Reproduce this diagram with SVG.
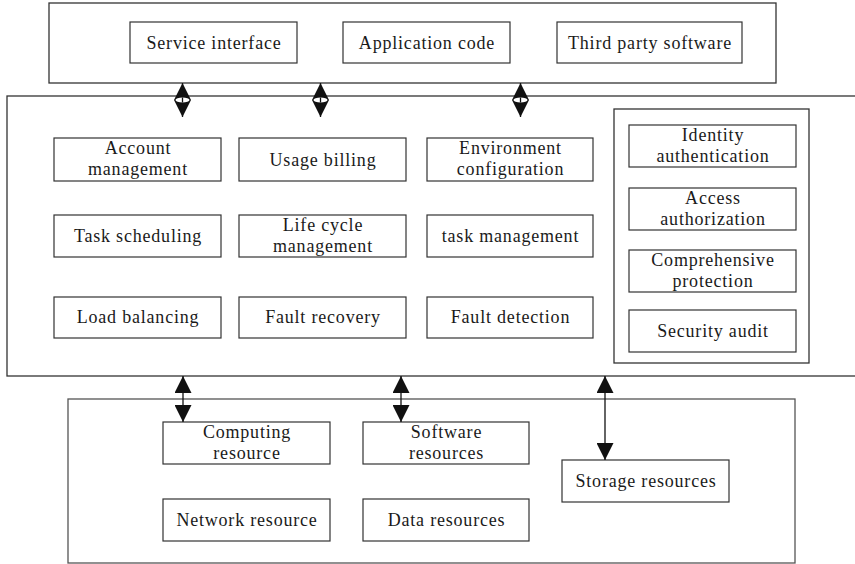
<svg xmlns="http://www.w3.org/2000/svg" width="855" height="564" viewBox="0 0 855 564">
<defs>
<style>
.frame{fill:#fff;stroke:#333;stroke-width:1.3}
.box{fill:#fff;stroke:#333;stroke-width:1.2}
.t{font-family:"Liberation Serif","Times New Roman",serif;font-size:18px;letter-spacing:0.8px;fill:#1a1a1a;text-anchor:middle}
.conn{stroke:#111;stroke-width:1.3;fill:none}
</style>
<marker id="ah" viewBox="0 0 17 17" refX="17" refY="8.5" markerWidth="17" markerHeight="17" markerUnits="userSpaceOnUse" orient="auto-start-reverse">
<path d="M0,0 L17,8.5 L0,17 Z" fill="#111"/>
</marker>
</defs>
<rect width="855" height="564" fill="#fff"/>

<g id="top-layer">
<rect class="frame" x="49" y="3" width="727" height="80"/>
<g id="service-interface"><rect class="box" x="130" y="22" width="167" height="41"/><text class="t" x="214" y="49">Service interface</text></g>
<g id="application-code"><rect class="box" x="343" y="22" width="167" height="41"/><text class="t" x="427" y="49">Application code</text></g>
<g id="third-party-software"><rect class="box" x="557" y="22" width="185" height="41"/><text class="t" x="650" y="49">Third party software</text></g>
</g>

<g id="middle-layer">
<rect class="frame" x="7" y="96" width="860" height="280"/>
<g id="account-management"><rect class="box" x="54" y="138" width="167" height="43"/><text class="t" x="138" y="154">Account</text><text class="t" x="138" y="175">management</text></g>
<g id="usage-billing"><rect class="box" x="239" y="138" width="167" height="43"/><text class="t" x="323" y="166">Usage billing</text></g>
<g id="environment-configuration"><rect class="box" x="427" y="138" width="166" height="43"/><text class="t" x="510.5" y="154">Environment</text><text class="t" x="510.5" y="175">configuration</text></g>
<g id="task-scheduling"><rect class="box" x="54" y="215" width="167" height="42"/><text class="t" x="138" y="242">Task scheduling</text></g>
<g id="life-cycle-management"><rect class="box" x="239" y="215" width="167" height="42"/><text class="t" x="323" y="231">Life cycle</text><text class="t" x="323" y="252">management</text></g>
<g id="task-management"><rect class="box" x="427" y="215" width="166" height="42"/><text class="t" x="510.5" y="242">task management</text></g>
<g id="load-balancing"><rect class="box" x="54" y="297" width="167" height="41"/><text class="t" x="138" y="323">Load balancing</text></g>
<g id="fault-recovery"><rect class="box" x="239" y="297" width="167" height="41"/><text class="t" x="323" y="323">Fault recovery</text></g>
<g id="fault-detection"><rect class="box" x="427" y="297" width="166" height="41"/><text class="t" x="510.5" y="323">Fault detection</text></g>
<g id="security-panel">
<rect class="frame" x="614" y="109" width="195" height="254"/>
<g id="identity-authentication"><rect class="box" x="629" y="125" width="167" height="42"/><text class="t" x="713" y="141">Identity</text><text class="t" x="713" y="162">authentication</text></g>
<g id="access-authorization"><rect class="box" x="629" y="188" width="167" height="42"/><text class="t" x="713" y="204">Access</text><text class="t" x="713" y="225">authorization</text></g>
<g id="comprehensive-protection"><rect class="box" x="629" y="250" width="167" height="42"/><text class="t" x="713" y="266">Comprehensive</text><text class="t" x="713" y="287">protection</text></g>
<g id="security-audit"><rect class="box" x="629" y="310" width="167" height="42"/><text class="t" x="713" y="337">Security audit</text></g>
</g>
</g>

<g id="bottom-layer">
<rect class="frame" x="68" y="399" width="727" height="164" style="stroke:#555"/>
<g id="computing-resource"><rect class="box" x="163" y="422" width="167" height="42"/><text class="t" x="247" y="438">Computing</text><text class="t" x="247" y="459">resource</text></g>
<g id="software-resources"><rect class="box" x="363" y="422" width="166" height="42"/><text class="t" x="446.5" y="438">Software</text><text class="t" x="446.5" y="459">resources</text></g>
<g id="network-resource"><rect class="box" x="163" y="499" width="167" height="42"/><text class="t" x="247" y="526">Network resource</text></g>
<g id="data-resources"><rect class="box" x="363" y="499" width="166" height="42"/><text class="t" x="446.5" y="526">Data resources</text></g>
<g id="storage-resources"><rect class="box" x="562" y="460" width="167" height="42"/><text class="t" x="646" y="487">Storage resources</text></g>
</g>

<g id="connectors">
<line class="conn" x1="182.5" y1="83" x2="182.5" y2="117" marker-start="url(#ah)" marker-end="url(#ah)"/>
<line class="conn" x1="320.5" y1="83" x2="320.5" y2="117" marker-start="url(#ah)" marker-end="url(#ah)"/>
<line class="conn" x1="520.5" y1="83" x2="520.5" y2="117" marker-start="url(#ah)" marker-end="url(#ah)"/>
<ellipse cx="182.5" cy="100" rx="7" ry="2.5" fill="#fff"/>
<ellipse cx="320.5" cy="100" rx="7" ry="2.5" fill="#fff"/>
<ellipse cx="520.5" cy="100" rx="7" ry="2.5" fill="#fff"/>
<line class="conn" x1="182.5" y1="97.5" x2="182.5" y2="102.5"/>
<line class="conn" x1="320.5" y1="97.5" x2="320.5" y2="102.5"/>
<line class="conn" x1="520.5" y1="97.5" x2="520.5" y2="102.5"/>
<line class="conn" x1="183" y1="376" x2="183" y2="422" marker-start="url(#ah)" marker-end="url(#ah)"/>
<line class="conn" x1="401" y1="376" x2="401" y2="422" marker-start="url(#ah)" marker-end="url(#ah)"/>
<line class="conn" x1="605" y1="376" x2="605" y2="460" marker-start="url(#ah)" marker-end="url(#ah)"/>
</g>
</svg>
